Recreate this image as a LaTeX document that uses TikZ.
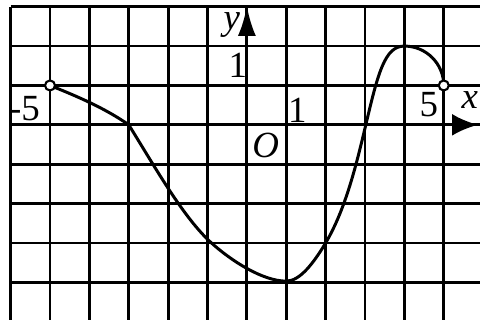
\documentclass[tikz,border=0pt]{standalone}
\usepackage{fontspec}
\setmainfont{Liberation Serif}
\usetikzlibrary{arrows.meta}
\begin{document}
\begin{tikzpicture}[x=0.788cm,y=0.788cm,
  gridline/.style={line width=1.6pt},
  axisline/.style={line width=1.8pt},
  graphline/.style={line width=1.7pt, line cap=round, line join=round},
  hole/.style={circle, draw, line width=1.2pt, fill=white, inner sep=0pt, minimum size=0.2cm},
  lbl/.style={inner sep=0pt, font=\fontsize{21}{21}\selectfont}]
\useasboundingbox (-6.27,-4.95) rectangle (5.92,3.17);
% grid
\foreach \i in {-6,...,5} \draw[gridline] (\i,3) -- (\i,-4.95);
\foreach \j in {-4,...,3} \draw[gridline] (-6,\j) -- (5.92,\j);
% axes
\coordinate (xstart) at (-6,0);
\coordinate (xend) at (5.87,0);
\coordinate (ystart) at (0,-4.95);
\coordinate (yend) at (0,3.02);
\draw[axisline, -{Latex[length=0.52cm,width=0.44cm]}] (xstart) -- (xend);
\draw[axisline, -{Latex[length=0.6cm,width=0.36cm]}] (ystart) -- (yend);
% graph
\draw[graphline] (-5,1) .. controls (-4.3,0.72) and (-3.6,0.42) .. (-3,0)
  .. controls (-2.3,-1.13) and (-1.6,-2.37) .. (-0.9,-3)
  .. controls (-0.4,-3.45) and (0.4,-3.97) .. (1.0,-3.97)
  .. controls (1.35,-3.97) and (1.7,-3.5) .. (2,-3)
  .. controls (2.51,-2.14) and (2.79,-0.97) .. (3.02,0)
  .. controls (3.33,1.31) and (3.5,2) .. (4,2)
  arc[start angle=90, end angle=0, radius=1];
\node[hole] (pL) at (-5,1) {};
\node[hole] (pR) at (5,1) {};
% labels
\node[lbl] (m5) at (-5.65,0.41) {-5};
\node[lbl] (ylab) at (-0.38,2.54) {\itshape y};
\node[lbl] (y1) at (-0.23,1.51) {1};
\node[lbl] (x1) at (1.28,0.38) {1};
\node[lbl] (x5) at (4.62,0.51) {5};
\node[lbl] (xlab) at (5.66,0.62) {\itshape x};
\node[lbl] (orig) at (0.48,-0.52) {\itshape O};
\end{tikzpicture}
\end{document}
